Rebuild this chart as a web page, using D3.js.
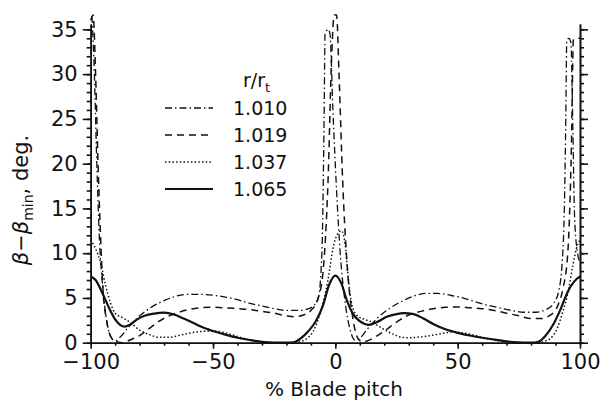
<!DOCTYPE html>
<html>
<head>
<meta charset="utf-8">
<script src="https://cdn.jsdelivr.net/npm/d3@7"></script>
<style>
  body { margin: 0; background: #fff; }
  svg text { font-family: "DejaVu Sans", sans-serif; fill: #111; }
  .axis path, .axis line { stroke: #111; stroke-width: 1.6; }
</style>
</head>
<body>
<div id="chart"></div>
<script>
// r/r_t values for each curve
var radii = ["1.010", "1.019", "1.037", "1.065"];

// [% blade pitch, beta - beta_min (deg)]
var s1010 = [[-99.5,36.5],[-98.5,30],[-97.5,20],[-96.5,12],[-95,6],[-93.5,2.5],[-91.5,0.5],[-90,0.2],[-88,0.6],[-85,1.6],
  [-80,3.0],[-75,4.0],[-70,4.7],[-65,5.2],[-60,5.4],[-55,5.4],[-50,5.3],[-45,5.1],[-40,4.8],[-35,4.4],[-30,4.1],[-25,3.8],
  [-20,3.6],[-15,3.6],[-10,3.9],[-7,5],[-5.5,10],[-4.6,25],[-4.2,34.5],[-3,35],[-2.2,34.5],[-1,26],[0.5,17],[2,10],[4,4.5],
  [6,1.5],[8,0.3],[10,0.5],[13,1.5],[17,2.7],[22,3.8],[27,4.6],[32,5.2],[37,5.5],[42,5.5],[47,5.3],[52,5.0],[57,4.6],
  [62,4.2],[67,3.9],[72,3.6],[77,3.4],[82,3.4],[86,3.7],[89,4.3],[91.5,6],[93.3,12],[94.2,25],[94.6,33.8],[95.5,34],
  [96.3,33.5],[97,25],[97.8,14],[99,10],[100,9]];
var s1019 = [[-100,36],[-99,36.6],[-98,30],[-97,20],[-96,12],[-95,6],[-93.5,2.5],[-92,0.8],[-90,0.2],[-87,0],[-84,0.3],
  [-80,0.8],[-76,1.6],[-72,2.4],[-68,3.0],[-64,3.4],[-60,3.7],[-55,3.9],[-50,3.95],[-45,3.9],[-40,3.8],[-35,3.7],[-30,3.5],
  [-25,3.3],[-20,3.0],[-17,2.9],[-13,3.1],[-10,3.6],[-7,5],[-5,8],[-3,18],[-1.5,32],[-0.5,36.6],[0.5,36.6],[1.5,30],[3,18],
  [5,8],[7,3],[9,0.6],[11,0.1],[13,0.2],[16,0.6],[20,1.3],[25,2.3],[30,3.1],[35,3.5],[40,3.8],[45,3.95],[50,4.0],[55,3.9],
  [60,3.8],[65,3.6],[70,3.3],[75,3.0],[80,2.7],[84,2.7],[88,3.1],[91,4.2],[93,6],[95,10],[96.5,22],[97.3,33.8],[98.5,34],[100,34]];
var s1037 = [[-100,11.5],[-98,10.5],[-96,9],[-94,6.5],[-92,4.5],[-90,3.3],[-87,2.8],[-84,2.3],[-80,1.4],[-76,0.9],[-72,0.6],
  [-68,0.6],[-64,0.8],[-60,1.05],[-55,1.25],[-50,1.3],[-45,1.1],[-40,0.7],[-35,0.3],[-30,0.1],[-25,0],[-20,0],[-15,0.1],
  [-12,0.4],[-9,1.3],[-6,3.5],[-3,7],[-1,10.5],[1,12.2],[2.5,12.5],[4,11],[5,8],[6,5.5],[7,4],[9,3],[12,2.6],[15,2.3],
  [18,1.8],[21,1.3],[24,0.9],[27,0.6],[30,0.55],[35,0.65],[40,0.85],[45,1.1],[48,1.2],[52,1.1],[56,0.9],[60,0.6],[65,0.3],
  [70,0.1],[75,0],[82,0],[86,0.2],[89,0.8],[91,1.8],[93,3.5],[95,5.5],[97,8.5],[98.5,10.5],[100,11.5]];
var s1065 = [[-100,7.4],[-98,7],[-96,6],[-94,4.8],[-92,3.6],[-90,2.6],[-88,2.0],[-86,1.8],[-84,2.0],[-81,2.6],[-78,3.0],
  [-74,3.25],[-70,3.35],[-66,3.15],[-62,2.7],[-58,2.2],[-55,1.8],[-50,1.3],[-45,0.9],[-40,0.55],[-35,0.3],[-30,0.1],
  [-25,0.02],[-20,0],[-17,0.05],[-14,0.5],[-11,1.3],[-8,2.4],[-5,4.2],[-2.5,6.5],[0,7.5],[2.5,6.6],[4.6,4.8],[7,3.3],
  [10,2.4],[13.5,2.0],[17,2.3],[21,2.9],[25,3.2],[28,3.3],[32,3.2],[36,2.7],[40,2.1],[45,1.5],[50,1.1],[55,0.8],[60,0.55],
  [65,0.35],[70,0.15],[75,0.05],[80,0],[83,0.1],[86,0.8],[89,2.0],[92,3.7],[95,5.7],[97.5,6.8],[100,7.4]];

var series = [s1010, s1019, s1037, s1065];
var dashes = ["7,3,1.5,3", "7,5", "1.5,2.2", null];
var widths = [1.3, 1.5, 1.5, 2.2];

var xTickLabels = [-100, -50, 0, 50, 100];
var yTickLabels = [0, 5, 10, 15, 20, 25, 30, 35];

var width = 600, height = 403;
var margin = {left: 90.7, right: 20, top: 24, bottom: 60.3};

var svg = d3.select("#chart").append("svg")
  .attr("width", width).attr("height", height);

var x = d3.scaleLinear().domain([-100, 100]).range([margin.left, width - margin.right]);
var y = d3.scaleLinear().domain([0, 35.6]).range([height - margin.bottom, margin.top]);

var xMinor = d3.range(-100, 101, 10);
var yMinor = d3.range(0, 36, 1);

// minor ticks first, then major with labels
svg.append("g").attr("class", "axis")
  .attr("transform", "translate(0," + y(0) + ")")
  .call(d3.axisBottom(x).tickValues(xMinor).tickSize(3).tickSizeOuter(0).tickFormat(""));
svg.append("g").attr("class", "axis")
  .attr("transform", "translate(0," + y(0) + ")")
  .call(d3.axisBottom(x).tickValues(xTickLabels).tickSize(6).tickSizeOuter(0).tickPadding(5))
  .selectAll("text").style("font-size", "21px");

svg.append("g").attr("class", "axis")
  .attr("transform", "translate(" + x(-100) + ",0)")
  .call(d3.axisLeft(y).tickValues(yMinor).tickSize(4).tickSizeOuter(0).tickFormat(""));
svg.append("g").attr("class", "axis")
  .attr("transform", "translate(" + x(-100) + ",0)")
  .call(d3.axisLeft(y).tickValues(yTickLabels).tickSize(8).tickSizeOuter(0).tickPadding(5))
  .selectAll("text").style("font-size", "21px");

svg.append("g").attr("class", "axis")
  .attr("transform", "translate(" + x(100) + ",0)")
  .call(d3.axisRight(y).tickValues(yMinor).tickSize(4).tickSizeOuter(0).tickFormat(""));
svg.append("g").attr("class", "axis")
  .attr("transform", "translate(" + x(100) + ",0)")
  .call(d3.axisRight(y).tickValues(yTickLabels).tickSize(8).tickSizeOuter(0).tickFormat(""));

svg.selectAll(".axis .domain").attr("stroke-width", 1.8);

var line = d3.line()
  .x(function(d) { return x(d[0]); })
  .y(function(d) { return y(d[1]); })
  .curve(d3.curveMonotoneX);

series.forEach(function(s, i) {
  svg.append("path")
    .datum(s)
    .attr("d", line)
    .attr("fill", "none")
    .attr("stroke", "#111")
    .attr("stroke-width", widths[i])
    .attr("stroke-dasharray", dashes[i]);
});

// legend
var legend = svg.append("g");
var lt = legend.append("text").attr("x", 243).attr("y", 87).style("font-size", "19px");
lt.append("tspan").text("r/r");
lt.append("tspan").attr("dy", 5).style("font-size", "13px").text("t");

radii.forEach(function(r, i) {
  var ly = 108 + i * 27;
  legend.append("line")
    .attr("x1", 165).attr("x2", 213)
    .attr("y1", ly).attr("y2", ly)
    .attr("stroke", "#111")
    .attr("stroke-width", widths[i])
    .attr("stroke-dasharray", dashes[i]);
  legend.append("text")
    .attr("x", 233).attr("y", ly + 7)
    .style("font-size", "19px")
    .text(r);
});

// axis titles
svg.append("text")
  .attr("x", 334).attr("y", 396)
  .attr("text-anchor", "middle")
  .style("font-size", "20px")
  .text("% Blade pitch");

var yl = svg.append("text")
  .attr("transform", "translate(28,200) rotate(-90)")
  .attr("text-anchor", "middle")
  .style("font-size", "21px");
yl.append("tspan").style("font-style", "italic").text("β");
yl.append("tspan").text("−");
yl.append("tspan").style("font-style", "italic").text("β");
yl.append("tspan").attr("dy", 5).style("font-size", "14px").text("min");
yl.append("tspan").attr("dy", -5).text(", deg.");
</script>
</body>
</html>
